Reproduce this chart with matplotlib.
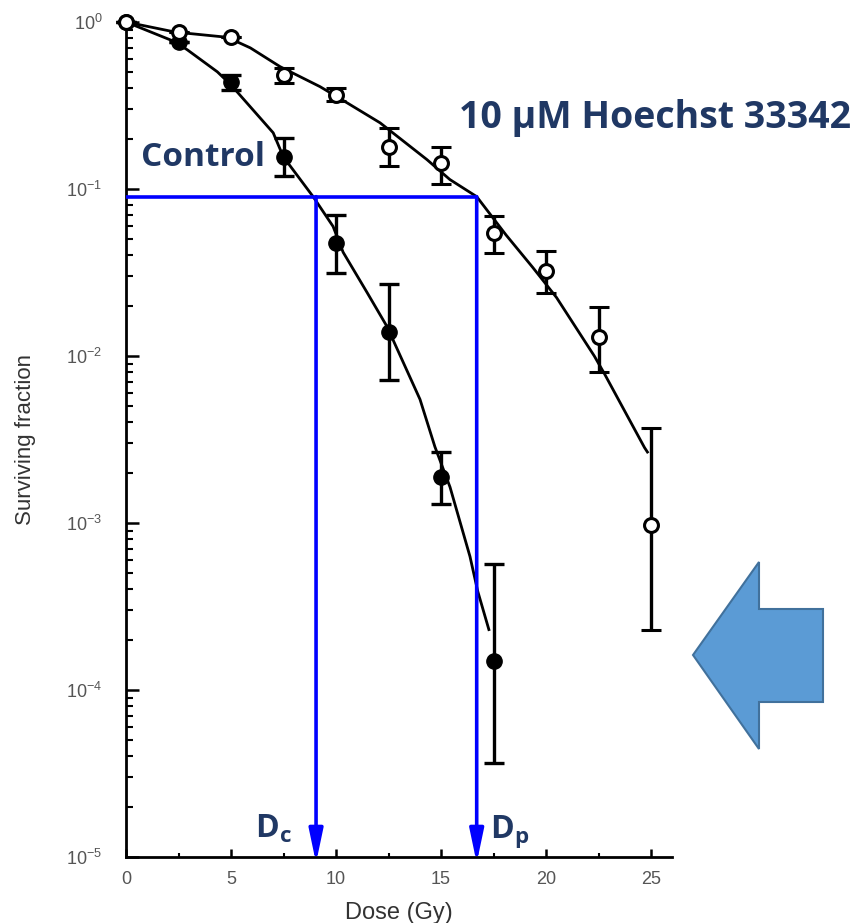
import numpy as np
import matplotlib.pyplot as plt
from matplotlib.patches import Polygon
from matplotlib.ticker import LogLocator, NullFormatter, MultipleLocator

plt.rcParams['font.family'] = ['Liberation Sans', 'DejaVu Sans']
plt.rcParams['mathtext.default'] = 'regular'

# measured points (dose in Gy, surviving fraction)
ctrl_dose = [0, 2.5, 5, 7.5, 10, 12.5, 15, 17.5]
ctrl_sf = [1.0, 0.76, 0.437, 0.155, 0.0475, 0.0139, 0.00188, 1.49e-4]
ctrl_hi = [1.0, 0.76, 0.482, 0.202, 0.0698, 0.027, 0.00266, 5.7e-4]
ctrl_lo = [1.0, 0.76, 0.393, 0.120, 0.0314, 0.00718, 0.0013, 3.66e-5]

hoe_dose = [0, 2.5, 5, 7.5, 10, 12.5, 15, 17.5, 20, 22.5, 25]
hoe_sf = [1.0, 0.87, 0.81, 0.48, 0.366, 0.178, 0.143, 0.0545, 0.0323, 0.0130, 9.7e-4]
hoe_hi = [1.0, 0.87, 0.81, 0.531, 0.403, 0.232, 0.178, 0.0689, 0.0425, 0.0197, 3.7e-3]
hoe_lo = [1.0, 0.87, 0.81, 0.432, 0.337, 0.137, 0.107, 0.0414, 0.0238, 0.0080, 2.3e-4]

# fitted curves
ctrl_fit_dose = [0, 2.35, 2.93, 4.35, 5.0, 7.01, 7.49, 8.91, 9.86, 10.34,
                 11.48, 12.43, 14.0, 14.71, 15.43, 16.38, 16.75, 17.28]
ctrl_fit_sf = [1.0, 0.76, 0.68, 0.503, 0.42, 0.217, 0.156, 0.090, 0.0597, 0.0418,
               0.024, 0.015, 0.0055, 0.00286, 0.00164, 6.3e-4, 3.9e-4, 2.3e-4]
hoe_fit_dose = [0, 2.35, 4.82, 5.92, 7.34, 9.24, 10.53, 12.1, 14.33, 15.42,
                16.7, 18.1, 19.37, 20.5, 22.3, 22.79, 24.69, 24.83]
hoe_fit_sf = [1.0, 0.87, 0.81, 0.70, 0.54, 0.41, 0.328, 0.249, 0.150, 0.114,
              0.090, 0.053, 0.0339, 0.0224, 0.0100, 0.0078, 0.00283, 0.00266]

sf_level = 0.09
d_c, d_p = 9.05, 16.7

navy = '#203864'
W, H = 867, 923
fig = plt.figure(figsize=(W / 100, H / 100), dpi=100)
ax = fig.add_axes([126 / W, 66 / H, 546 / W, 835 / H])
ax.set_yscale('log')
ax.set_xlim(0, 26)
ax.set_ylim(1e-5, 1)

ax.plot(ctrl_fit_dose, ctrl_fit_sf, color='black', lw=2.0, zorder=2)
ax.plot(hoe_fit_dose, hoe_fit_sf, color='black', lw=2.0, zorder=2)

ctrl_sf_a = np.array(ctrl_sf)
hoe_sf_a = np.array(hoe_sf)
ax.errorbar(ctrl_dose, ctrl_sf,
            yerr=[ctrl_sf_a - np.array(ctrl_lo), np.array(ctrl_hi) - ctrl_sf_a],
            fmt='o', color='black', ms=11, elinewidth=2.4, capsize=7, capthick=2.4,
            zorder=3, clip_on=False)
ax.errorbar(hoe_dose, hoe_sf,
            yerr=[hoe_sf_a - np.array(hoe_lo), np.array(hoe_hi) - hoe_sf_a],
            fmt='o', color='black', mfc='white', mec='black', mew=2.2, ms=10,
            elinewidth=2.4, capsize=7, capthick=2.4, zorder=3, clip_on=False)

# blue construction lines
ax.plot([0, d_p], [sf_level, sf_level], color='blue', lw=2.6, zorder=4,
        solid_capstyle='butt')
for d in (d_c, d_p):
    ax.annotate('', xy=(d, 9.2e-6), xytext=(d, sf_level),
                arrowprops=dict(arrowstyle='-|>,head_length=2.0,head_width=0.42',
                                color='blue', lw=2.6, shrinkA=0, shrinkB=0),
                zorder=4, annotation_clip=False)

ax.text(3.69, 0.154, 'Control', color=navy, fontsize=24, fontweight='bold',
        family='Open Sans', ha='center', va='center')
ax.text(25.2, 0.265, '10 μM Hoechst 33342', color=navy, fontsize=27,
        fontweight='bold', family='Open Sans', ha='center', va='center',
        clip_on=False)
ax.text(6.15, 1.3e-5, r'D$_\mathregular{c}$', color=navy, fontsize=23,
        fontweight='bold', family='Open Sans', ha='left', va='baseline')
ax.text(17.35, 1.3e-5, r'D$_\mathregular{p}$', color=navy, fontsize=23,
        fontweight='bold', family='Open Sans', ha='left', va='baseline')

# axes styling
for side in ('top', 'right'):
    ax.spines[side].set_visible(False)
for side in ('left', 'bottom'):
    ax.spines[side].set_linewidth(2.0)
ax.xaxis.set_major_locator(MultipleLocator(5))
ax.xaxis.set_minor_locator(MultipleLocator(2.5))
ax.yaxis.set_major_locator(LogLocator(base=10, numticks=10))
ax.yaxis.set_minor_locator(LogLocator(base=10, subs=np.arange(2, 10), numticks=20))
ax.yaxis.set_minor_formatter(NullFormatter())
ax.tick_params(axis='y', which='major', direction='in', length=9, width=1.8,
               labelsize=13, labelcolor='#555555', pad=17)
ax.tick_params(axis='y', which='minor', direction='in', length=5, width=1.5)
ax.tick_params(axis='x', which='major', direction='in', length=6, width=1.8,
               labelsize=13, labelcolor='#555555', pad=10)
ax.tick_params(axis='x', which='minor', direction='in', length=3, width=1.5)

ax.set_xlabel('Dose (Gy)', fontsize=17, color='#333333', labelpad=10)
ax.set_ylabel('Surviving fraction', fontsize=16, color='#333333', labelpad=22)

# big blue arrow on the right
pts = [(693, 655), (759, 562), (759, 609), (823, 609), (823, 702), (759, 702), (759, 749)]
arrow = Polygon([(x / W, 1 - y / H) for x, y in pts], closed=True,
                transform=fig.transFigure, facecolor='#5B9BD5', edgecolor='#41719C', lw=1.5)
fig.add_artist(arrow)

plt.savefig('out.png', dpi=100)
